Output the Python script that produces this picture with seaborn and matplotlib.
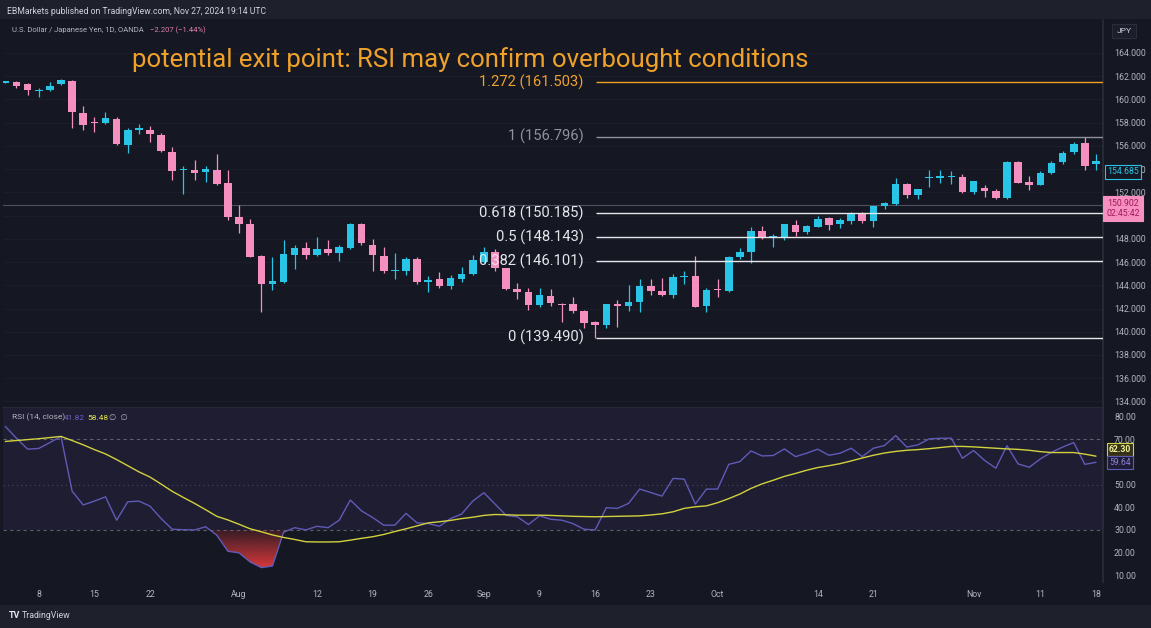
import numpy as np
import pandas as pd
import matplotlib
matplotlib.use("Agg")
import matplotlib.pyplot as plt
import matplotlib.colors as mcolors
import seaborn as sns

# ---------------- data ----------------
dates = pd.bdate_range("2024-07-03", "2024-11-18")

opens = [161.45, 161.5, 161.3, 160.7, 160.8, 161.3, 161.6, 158.8, 158.1, 158.0,
         158.3, 156.1, 157.4, 157.4, 156.9, 155.5, 153.9, 153.9, 153.75, 153.9,
         152.8, 149.9, 149.3, 146.5, 144.15, 144.3, 146.65, 147.2, 146.6, 147.15,
         146.75, 147.25, 149.25, 147.5, 146.5, 145.2, 145.2, 146.25, 144.25, 144.5,
         143.9, 144.5, 144.95, 146.0, 146.9, 145.45, 143.7, 143.4, 142.3, 143.05,
         142.4, 142.35, 141.75, 140.8, 140.55, 142.35, 142.2, 142.6, 143.9, 143.55,
         143.2, 144.75, 144.8, 142.2, 143.65, 143.5, 146.4, 146.9, 148.7, 148.15,
         148.2, 149.2, 148.55, 149.05, 149.8, 149.25, 149.55, 150.2, 149.5, 150.8,
         151.0, 152.7, 151.75, 153.2, 153.2, 153.35, 153.35, 152.05, 152.35, 152.1,
         151.55, 154.6, 152.9, 152.65, 153.65, 154.6, 155.45, 156.25, 154.45]
highs = [161.6, 161.6, 161.4, 161.0, 161.5, 161.75, 161.7, 159.4, 158.5, 158.9,
         158.5, 157.5, 157.9, 157.7, 157.1, 155.9, 154.3, 154.8, 154.3, 155.3,
         153.9, 150.9, 149.7, 146.6, 146.4, 147.9, 147.5, 147.7, 148.2, 147.9,
         147.5, 149.4, 149.4, 148.0, 147.3, 146.8, 146.45, 146.4, 144.8, 145.15,
         144.85, 145.6, 146.6, 147.3, 147.1, 145.5, 144.2, 143.8, 143.8, 143.65,
         142.45, 143.0, 141.85, 140.95, 142.4, 142.7, 144.0, 144.5, 144.5, 144.65,
         145.0, 145.2, 146.5, 143.8, 144.55, 146.5, 147.2, 149.0, 149.1, 148.4,
         149.3, 149.6, 149.2, 149.95, 149.9, 149.8, 150.3, 150.3, 150.85, 151.2,
         153.2, 152.85, 152.3, 153.9, 153.9, 153.85, 153.6, 153.0, 152.6, 152.3,
         154.7, 154.7, 153.4, 153.85, 154.7, 155.6, 156.3, 156.8, 155.3]
lows = [161.4, 161.0, 160.4, 160.2, 160.75, 161.25, 157.5, 157.4, 157.2, 157.9,
        156.1, 155.4, 157.0, 156.3, 155.5, 153.1, 151.9, 153.1, 152.9, 152.6,
        149.6, 148.5, 146.4, 141.7, 143.6, 144.2, 145.4, 146.3, 146.5, 146.6,
        146.1, 147.1, 147.5, 145.2, 145.1, 144.5, 144.85, 144.1, 143.4, 143.8,
        143.7, 144.3, 144.9, 145.9, 145.2, 143.6, 142.85, 141.85, 142.1, 142.2,
        140.85, 141.6, 140.3, 139.5, 140.35, 140.4, 141.8, 141.7, 143.2, 143.1,
        142.9, 144.15, 142.1, 141.7, 143.0, 143.4, 146.3, 145.9, 148.0, 147.3,
        147.9, 148.25, 148.4, 149.0, 148.8, 148.9, 149.3, 149.4, 149.0, 150.6,
        150.9, 151.5, 151.45, 152.5, 152.8, 152.75, 151.95, 151.9, 151.6, 151.4,
        151.4, 152.8, 152.2, 152.6, 153.55, 154.4, 155.3, 153.9, 153.9]
closes = [161.55, 161.2, 160.8, 160.8, 161.2, 161.65, 158.9, 157.8, 158.0, 158.4,
          156.2, 157.4, 157.5, 157.0, 155.6, 153.85, 154.0, 153.7, 154.0, 152.7,
          149.9, 149.3, 146.45, 144.15, 144.35, 146.7, 147.2, 146.6, 147.15, 146.75,
          147.3, 149.25, 147.6, 146.6, 145.25, 145.3, 146.25, 144.3, 144.45, 143.9,
          144.6, 144.95, 146.2, 146.9, 145.45, 143.7, 143.45, 142.3, 143.15, 142.5,
          142.3, 141.75, 140.75, 140.6, 142.35, 142.25, 142.6, 143.9, 143.5, 143.2,
          144.75, 144.8, 142.15, 143.6, 143.6, 146.45, 146.9, 148.7, 148.1, 148.2,
          149.25, 148.55, 149.1, 149.75, 149.2, 149.6, 150.2, 149.5, 150.8, 151.05,
          152.75, 151.75, 152.25, 153.3, 153.4, 153.4, 152.05, 152.95, 152.1, 151.55,
          154.6, 152.85, 152.6, 153.7, 154.55, 155.4, 156.2, 154.3, 154.685]

rsi = [75.6, 70.4, 65.6, 65.9, 68.5, 71.2, 47.1, 41.0, 42.7, 44.6,
       34.3, 42.4, 42.7, 40.5, 35.0, 30.3, 30.1, 30.0, 31.4, 27.7,
       20.6, 19.9, 15.9, 13.4, 14.1, 29.0, 31.0, 30.0, 31.6, 31.0,
       34.3, 43.2, 38.4, 35.5, 32.1, 32.1, 37.3, 33.1, 32.8, 31.6,
       35.0, 37.0, 42.7, 46.4, 41.4, 36.4, 35.8, 32.4, 36.2, 34.7,
       34.3, 32.8, 30.3, 30.0, 39.8, 39.5, 41.7, 48.0, 46.5, 44.9,
       52.7, 52.4, 41.4, 48.0, 48.0, 58.9, 60.1, 64.8, 62.6, 62.8,
       65.7, 62.3, 63.8, 65.6, 62.9, 63.8, 66.0, 62.3, 66.0, 67.2,
       71.6, 66.5, 67.5, 70.1, 70.4, 70.4, 61.6, 65.0, 60.6, 57.2,
       67.1, 59.1, 57.6, 61.3, 64.2, 66.5, 68.5, 58.9, 59.8]
rsi_ma = [69.0, 69.4, 69.8, 70.2, 70.7, 71.2, 69.4, 67.5, 65.4, 63.5,
          61.0, 58.3, 55.6, 53.3, 50.2, 47.0, 44.3, 41.7, 38.9, 36.0,
          34.4, 32.5, 30.5, 29.2, 27.8, 26.7, 25.8, 24.8, 24.7, 24.7,
          24.8, 25.5, 26.3, 27.0, 28.0, 29.3, 30.5, 31.8, 33.1, 33.6,
          34.2, 35.0, 35.6, 36.4, 36.8, 36.7, 36.5, 36.5, 36.5, 36.4,
          36.2, 36.0, 35.9, 35.8, 35.9, 36.0, 36.1, 36.2, 36.6, 37.1,
          38.0, 39.5, 40.2, 40.6, 42.0, 43.8, 45.8, 48.3, 50.3, 51.9,
          53.6, 54.9, 56.3, 57.5, 58.3, 59.2, 60.4, 61.7, 62.9, 63.9,
          64.6, 65.1, 65.4, 65.8, 66.3, 66.8, 66.8, 66.6, 66.3, 66.0,
          65.7, 65.5, 65.1, 64.5, 64.1, 64.1, 64.1, 63.4, 62.5]

fib_labels = ["1.272 (161.503)", "1 (156.796)", "0.618 (150.185)",
              "0.5 (148.143)", "0.382 (146.101)", "0 (139.490)"]
fib_prices = [161.503, 156.796, 150.185, 148.143, 146.101, 139.490]
fib_start_date = "2024-09-16"
last_line_price = 150.902

price_ticks = [134, 136, 138, 140, 142, 144, 146, 148, 150, 152, 154, 156, 158, 160, 162, 164]
rsi_ticks = [10, 20, 30, 40, 50, 60, 70, 80]
xtick_dates = ["2024-07-08", "2024-07-15", "2024-07-22", "2024-08-01", "2024-08-12",
               "2024-08-19", "2024-08-26", "2024-09-02", "2024-09-09", "2024-09-16",
               "2024-09-23", "2024-10-01", "2024-10-14", "2024-10-21", "2024-11-01",
               "2024-11-11", "2024-11-18"]
xtick_labels = ["8", "15", "22", "Aug", "12", "19", "26", "Sep", "9", "16", "23",
                "Oct", "14", "21", "Nov", "11", "18"]

title = "potential exit point: RSI may confirm overbought conditions"

# ---------------- style ----------------
CHART_BG = "#151722"
STRIP_BG = "#1e202c"
UP = "#29c5e6"
DOWN = "#f48fbf"
TXT = "#b2b5be"
ORANGE = "#f0a12a"

sns.set_theme(style="dark", rc={"axes.facecolor": CHART_BG, "figure.facecolor": CHART_BG,
                                "axes.edgecolor": "#2a2e39", "grid.color": "#1c1f2b"})
plt.rcParams["font.family"] = ["Roboto", "DejaVu Sans"]

W, H = 1151, 628
fig = plt.figure(figsize=(W / 100, H / 100), dpi=100)


def fx(x):
    return x / W


def fy(y):
    return 1 - y / H


# strips
fig.patches.append(plt.Rectangle((0, fy(18)), 1, 18 / H, transform=fig.transFigure,
                                 color=STRIP_BG, zorder=0))
fig.patches.append(plt.Rectangle((0, 0), 1, (H - 605) / H, transform=fig.transFigure,
                                 color=STRIP_BG, zorder=0))

ax = fig.add_axes([fx(3), fy(407.5), 1100 / W, (407.5 - 20) / H])
axr = fig.add_axes([fx(3), fy(582), 1100 / W, (582 - 407.5) / H])

idx = np.arange(len(dates))
o = np.array(opens); h = np.array(highs); l = np.array(lows); c = np.array(closes)
up = c >= o
cols = np.where(up, UP, DOWN)

# ---------------- main panel ----------------
for p in price_ticks:
    ax.axhline(p, color="#1b1e2a", lw=0.8, zorder=0)

ax.axhline(last_line_price, color="#4e5060", lw=0.8, zorder=1)

ax.vlines(idx, l, h, colors=cols, lw=0.9, zorder=2)
body = np.maximum(np.abs(c - o), 0.07)
ax.bar(idx, body, bottom=np.minimum(o, c), width=0.68, color=cols, linewidth=0, zorder=3)

fib_i = dates.get_loc(pd.Timestamp(fib_start_date)) + 0.1
fib_cols = [ORANGE, "#8f929c", "#e6e7eb", "#e6e7eb", "#e6e7eb", "#e6e7eb"]
for lab, pr, col in zip(fib_labels, fib_prices, fib_cols):
    ax.hlines(pr, fib_i, 99.5, color=col, lw=1.0, zorder=4)
    ax.annotate(lab, xy=(fib_i, pr), xytext=(-9, 0), textcoords="offset points",
                ha="right", va="center", color=col, fontsize=10.6, zorder=5)

ax.set_xlim(-0.21, 98.63)
ax.set_ylim(133.48, 166.84)
ax.yaxis.tick_right()
ax.set_yticks(price_ticks)
ax.set_yticklabels([f"{p:.3f}" for p in price_ticks])
ax.tick_params(axis="y", colors=TXT, labelsize=6.3, length=0, pad=8)
ax.tick_params(axis="x", length=0, labelbottom=False)
ax.grid(False)
for s in ["top", "left"]:
    ax.spines[s].set_visible(False)
ax.spines["right"].set_color("#2a2e39")
ax.spines["bottom"].set_color("#2a2e39")

# ---------------- RSI panel ----------------
axr.axhspan(30, 84, color="#7e57c2", alpha=0.10, lw=0, zorder=0)
for lv, ls, a in [(70, (0, (3, 3)), 0.55), (50, (0, (1, 3)), 0.35), (30, (0, (3, 3)), 0.55)]:
    axr.axhline(lv, color="#9598a1", lw=0.8, ls=ls, alpha=a, zorder=1)


def grad_fill(axx, x, y, base, where, rgb, a_lo, a_hi, y_lo, y_hi):
    coll = axx.fill_between(x, y, base, where=where, interpolate=True,
                            facecolor="none", edgecolor="none", lw=0)
    arr = np.zeros((256, 1, 4))
    arr[:, 0, :3] = mcolors.to_rgb(rgb)
    arr[:, 0, 3] = np.linspace(a_lo, a_hi, 256)
    for path in coll.get_paths():
        im = axx.imshow(arr, extent=[x[0], x[-1], y_lo, y_hi], origin="lower",
                        aspect="auto", zorder=1.5, interpolation="bilinear")
        im.set_clip_path(path, transform=axx.transData)


r = np.array(rsi)
grad_fill(axr, idx.astype(float), r, 30, r < 30, "#f23d3d", 0.95, 0.15, 12, 30)

sns.lineplot(x=idx, y=rsi, ax=axr, color="#5f5bb8", lw=1.0, zorder=3)
sns.lineplot(x=idx, y=rsi_ma, ax=axr, color="#d2d23e", lw=1.0, zorder=4)

axr.set_xlim(-0.21, 98.63)
axr.set_ylim(7.06, 83.95)
axr.yaxis.tick_right()
axr.set_yticks(rsi_ticks)
axr.set_yticklabels([f"{t:.2f}" for t in rsi_ticks])
axr.tick_params(axis="y", colors=TXT, labelsize=6.3, length=0, pad=8)
tick_pos = [dates.get_loc(pd.Timestamp(d)) for d in xtick_dates]
axr.set_xticks(tick_pos)
axr.set_xticklabels(xtick_labels)
axr.tick_params(axis="x", colors=TXT, labelsize=6.3, length=0, pad=6)
axr.set_xlabel("")
axr.set_ylabel("")
axr.grid(False)
for s in ["top", "left", "bottom"]:
    axr.spines[s].set_visible(False)
axr.spines["right"].set_color("#2a2e39")

# hide price labels covered by the tags in the reference
for lbl in ax.get_yticklabels():
    if lbl.get_text() in ("150.000",):
        lbl.set_visible(False)
for lbl in axr.get_yticklabels():
    if lbl.get_text() in ("60.00",):
        lbl.set_visible(False)

# ---------------- texts ----------------
fig.text(fx(7), fy(11), "EBMarkets published on TradingView.com, Nov 27, 2024 19:14 UTC",
         color="#d1d4dc", fontsize=6.2, va="center", ha="left")
fig.text(fx(12), fy(30), "U.S. Dollar / Japanese Yen, 1D, OANDA", color=TXT,
         fontsize=5.5, va="center", ha="left")
fig.text(fx(150), fy(30), "\u22122.207 (\u22121.44%)", color="#e07fb0",
         fontsize=5.5, va="center", ha="left")
fig.text(fx(132), fy(60), title, color=ORANGE, fontsize=18.5, va="center", ha="left")

fig.text(fx(12), fy(417.5), "RSI (14, close)", color=TXT, fontsize=6.0, va="center")
fig.text(fx(64), fy(417.5), "41.82", color="#6f5fc8", fontsize=6.0, va="center")
fig.text(fx(87), fy(417.5), "58.48", color="#e3e34a", fontsize=6.0, va="center")
fig.text(fx(109), fy(417.5), "\u2205  \u2205", color=TXT, fontsize=6.0, va="center")

# right scale tags
fig.text(fx(1124), fy(31), "JPY", color="#d1d4dc", fontsize=6.0, ha="center", va="center",
         bbox=dict(boxstyle="square,pad=0.5", fc="#1c1f2b", ec="#2a2e39", lw=0.8))
fig.text(fx(1123), fy(172), "154.685", color=UP, fontsize=6.3, ha="center", va="center",
         bbox=dict(boxstyle="square,pad=0.25", fc=CHART_BG, ec=UP, lw=0.8))
fig.text(fx(1123), fy(208.5), "150.902\n02:45:42", color="#a3185a", fontsize=6.3,
         ha="center", va="center", linespacing=1.25,
         bbox=dict(boxstyle="square,pad=0.35", fc="#f590c0", ec="#f590c0", lw=0.8))
fig.text(fx(1120), fy(449.5), "62.30", color="#f2f29a", fontsize=6.2, ha="center",
         va="center", fontweight="bold",
         bbox=dict(boxstyle="square,pad=0.2", fc="#34331a", ec="#d2d23e", lw=0.8))
fig.text(fx(1120), fy(462.5), "59.64", color="#8d82db", fontsize=6.2, ha="center",
         va="center",
         bbox=dict(boxstyle="square,pad=0.2", fc="#1f1c36", ec="#5f5bb8", lw=0.8))

# footer
fig.text(fx(9), fy(616), "TV", color="#e6e7eb", fontsize=6.5, fontweight="bold",
         va="center", ha="left")
fig.text(fx(22), fy(616), "TradingView", color="#d1d4dc", fontsize=6.3,
         va="center", ha="left")

fig.savefig("out.png", dpi=100, facecolor=CHART_BG)
